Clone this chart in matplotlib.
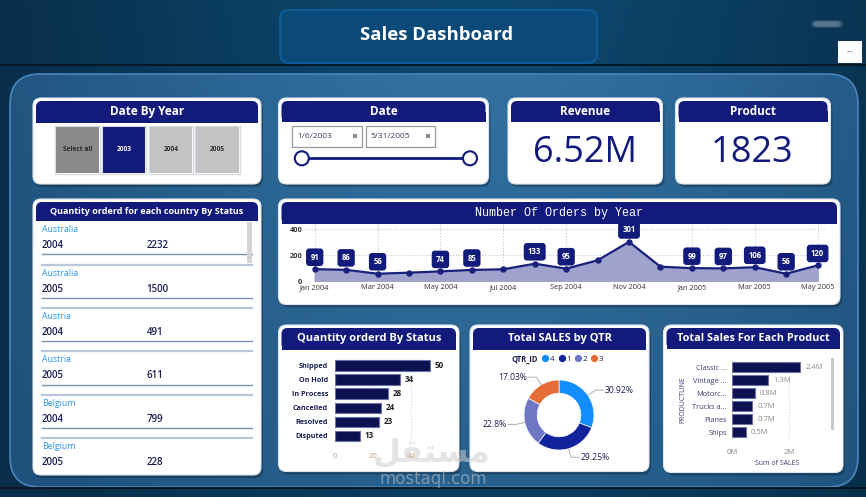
import numpy as np
import matplotlib.pyplot as plt
from matplotlib.patches import FancyBboxPatch, Rectangle, Circle
from matplotlib.lines import Line2D

plt.rcParams['font.family'] = ['Open Sans', 'DejaVu Sans']

# ---------------- data ----------------
slicer_years = ['Select all', '2003', '2004', '2005']
selected_year = '2003'
date_from = '1/6/2003'
date_to = '5/31/2005'
revenue = 6.52e6
product_count = 1823

table_country = ['Australia', 'Australia', 'Austria', 'Austria', 'Belgium', 'Belgium']
table_year = [2004, 2005, 2004, 2005, 2004, 2005]
table_qty = [2232, 1500, 491, 611, 799, 228]

months = ['Jan 2004', 'Feb 2004', 'Mar 2004', 'Apr 2004', 'May 2004', 'Jun 2004',
          'Jul 2004', 'Aug 2004', 'Sep 2004', 'Oct 2004', 'Nov 2004', 'Dec 2004',
          'Jan 2005', 'Feb 2005', 'Mar 2005', 'Apr 2005', 'May 2005']
orders = [91, 86, 56, 64, 74, 85, 90, 133, 95, 159, 301, 110, 99, 97, 106, 56, 120]
order_labelled = [1, 1, 1, 0, 1, 1, 0, 1, 1, 0, 1, 0, 1, 1, 1, 1, 1]

status = ['Shipped', 'On Hold', 'In Process', 'Cancelled', 'Resolved', 'Disputed']
status_qty = [50, 34, 28, 24, 23, 13]

qtr_ids = ['4', '1', '2', '3']
qtr_share = [30.92, 29.25, 22.80, 17.03]

product_lines = ['Classic ...', 'Vintage ...', 'Motorc...', 'Trucks a...', 'Planes', 'Ships']
product_sales = [2.40, 1.27, 0.79, 0.71, 0.70, 0.48]  # millions

# ---------------- style ----------------
NAVY = '#121b7b'
BAR = '#0c1150'
TXT = '#1c2052'
qtr_colors = ['#118dff', '#12239e', '#6f76c4', '#e66c37']

W, H = 866, 497
fig = plt.figure(figsize=(W / 100, H / 100), dpi=100)
bg = fig.add_axes([0, 0, 1, 1])
bg.set_xlim(0, W)
bg.set_ylim(H, 0)
bg.axis('off')


def box(x0, y0, x1, y1):
    ax = fig.add_axes([x0 / W, 1 - y1 / H, (x1 - x0) / W, (y1 - y0) / H])
    ax.patch.set_alpha(0)
    return ax


def rbox(x0, y0, x1, y1, r, **kw):
    p = FancyBboxPatch((x0, y0), x1 - x0, y1 - y0,
                       boxstyle=f'round,pad=0,rounding_size={r}', **kw)
    bg.add_patch(p)
    return p


# backdrop
gx, gy = np.meshgrid(np.linspace(0, 1, 300), np.linspace(0, 1, 200))
t = np.exp(-((gx - 0.55) / 0.45) ** 2) * (1 - 0.35 * gy)
dark = np.array([0.03, 0.16, 0.26])
light = np.array([0.05, 0.28, 0.43])
img = dark + (light - dark) * t[..., None]
bg.imshow(img, extent=(0, W, H, 0), aspect='auto', zorder=0)

panel = rbox(10, 74, 858, 487, 30, fc='none', ec='#4a86bd', lw=1.2, zorder=1.2)
t2 = np.exp(-((gx - 0.55) / 0.5) ** 2) * (1 - 0.45 * gy)
pdark = np.array([0.10, 0.29, 0.45])
plight = np.array([0.20, 0.45, 0.64])
pimg = pdark + (plight - pdark) * t2[..., None]
im = bg.imshow(pimg, extent=(0, W, H, 0), aspect='auto', zorder=1.1)
im.set_clip_path(panel)
bg.plot([0, W], [65, 65], color='#061420', lw=1.3, zorder=1.3)
bg.plot([0, W], [487.5, 487.5], color='#061420', lw=1.3, zorder=1.3)

# title box
rbox(280, 10, 597, 63, 9, fc='#0b4a78', ec='#0f5b98', lw=1.5, zorder=2)
bg.text(437, 35, 'Sales Dashboard', color='white', fontsize=13.3, fontweight='bold',
        ha='center', va='center', zorder=3)
for k, a in [(0, 0.12), (1.5, 0.18), (3, 0.25)]:
    rbox(811 + k, 20 + k / 2, 843 - k, 28 - k / 2, 3, fc='#b3c4d6', ec='none', alpha=a, zorder=2)
bg.add_patch(Rectangle((837.5, 41), 24, 22, fc='white', ec='none', zorder=2))
bg.text(849.5, 52, '•••', color='#777', fontsize=4, ha='center', va='center', zorder=3)


def card(x0, y0, x1, y1, title, hdr_h=21, fs=8.5, family=None):
    rbox(x0 + 2, y0 + 3, x1 + 2, y1 + 3, 8, fc='black', ec='none', alpha=0.25, zorder=2)
    rbox(x0, y0, x1, y1, 8, fc='white', ec='#dfe5ee', lw=0.8, zorder=3)
    hx0, hx1, hy0, hy1 = x0 + 3, x1 - 3, y0 + 3, y0 + 3 + hdr_h
    rbox(hx0, hy0, hx1, hy1, 6, fc=NAVY, ec='none', zorder=4)
    bg.add_patch(Rectangle((hx0, (hy0 + hy1) / 2), hx1 - hx0, (hy1 - hy0) / 2,
                           fc=NAVY, ec='none', zorder=4))
    kw = dict(fontweight='bold')
    if family:
        kw = dict(family=family, fontweight='normal')
    bg.text((hx0 + hx1) / 2, (hy0 + hy1) / 2, title, color='white', fontsize=fs,
            ha='center', va='center', zorder=5, **kw)


# ---------------- year slicer ----------------
card(33, 98, 261, 184, 'Date By Year', hdr_h=22)
for i, yr in enumerate(slicer_years):
    bx = 56 + i * 46.8
    if yr == 'Select all':
        fc, tc = '#8a8a8a', '#2a2a2a'
    elif yr == selected_year:
        fc, tc = NAVY, 'white'
    else:
        fc, tc = '#c3c3c3', '#2a2a2a'
    bg.add_patch(Rectangle((bx - 1, 126), 44.5, 47.5, fc='white', ec='#d6dbe4', lw=1, zorder=5))
    bg.add_patch(Rectangle((bx, 127), 42.5, 45.5, fc=fc, ec='none', zorder=6))
    bg.text(bx + 21.2, 149.5, yr, color=tc, fontsize=4.8, fontweight='bold',
            ha='center', va='center', zorder=7)

# ---------------- date slicer ----------------
card(278.5, 98, 488.5, 184, 'Date', hdr_h=21)
for bx0, bx1, s in [(292, 361.5, date_from), (365.5, 434.5, date_to)]:
    bg.add_patch(Rectangle((bx0, 125.7), bx1 - bx0, 21, fc='white', ec='#9a9a9a', lw=0.9, zorder=5))
    bg.text(bx0 + 5, 136.2, s, color='#3a3a5a', fontsize=6, ha='left', va='center', zorder=6)
    bg.add_patch(Rectangle((bx1 - 9, 133.5), 4, 4.5, fc='#8a8a9a', ec='none', zorder=6))
bg.plot([301.8, 470], [158.3, 158.3], color=NAVY, lw=2, zorder=5)
for cx in (301.8, 470):
    bg.add_patch(Circle((cx, 158.3), 7, fc='white', ec=NAVY, lw=1.5, zorder=6))

# ---------------- KPI cards ----------------
card(508, 98, 662.5, 184, 'Revenue', hdr_h=20.5)
bg.text(585, 153, f'{revenue / 1e6:.2f}M', color=NAVY, fontsize=26, ha='center', va='center', zorder=5)
card(675.5, 98, 830.5, 184, 'Product', hdr_h=20.5)
bg.text(752, 153, f'{product_count}', color=NAVY, fontsize=26, ha='center', va='center', zorder=5)

# ---------------- table ----------------
card(33, 199, 261, 475, 'Quantity orderd for each country By Status', hdr_h=19, fs=6.5)
for i, (c, y, q) in enumerate(zip(table_country, table_year, table_qty)):
    base = 229.7 + i * 43.4
    bg.text(41.7, base, c, color='#2b95ef', fontsize=6.3, ha='left', va='center', zorder=5)
    bg.text(41.7, base + 16, str(y), color=TXT, fontsize=7, fontweight='semibold',
            ha='left', va='center', zorder=5)
    bg.text(146.7, base + 16, str(q), color=TXT, fontsize=7, fontweight='semibold',
            ha='left', va='center', zorder=5)
    if i < len(table_country) - 1:
        bg.plot([41.7, 251.7], [base + 24.6, base + 24.6], color='#7d8fb0', lw=1, zorder=5)
        bg.plot([41.7, 251.7], [base + 34.8, base + 34.8], color='#b9c5d8', lw=1.6, zorder=5)
bg.add_patch(Rectangle((247.3, 221.7), 4.4, 41, fc='#d3d3d3', ec='none', zorder=6))

# ---------------- orders line chart ----------------
card(278.5, 199, 840, 304.5, 'Number Of Orders by Year', hdr_h=22, fs=8.5,
     family='Liberation Mono')
ax = box(305, 222, 826, 281)
xi = np.arange(len(orders))
ax.fill_between(xi, orders, color='#9ea2cd', zorder=2)
ax.plot(xi, orders, color='#1a217d', lw=1.6, marker='o', ms=3.6, zorder=3)
for i, v in enumerate(orders):
    if order_labelled[i]:
        ax.annotate(str(v), (i, v), xytext=(0, 8.6), textcoords='offset points',
                    ha='center', va='center', fontsize=5.6, fontweight='bold', color='white',
                    bbox=dict(boxstyle='round,pad=0.55,rounding_size=0.4', fc=NAVY, ec='none'),
                    zorder=5, annotation_clip=False)
ax.set_xlim(-0.309, 16.267)
ax.set_ylim(0, 454)
ax.set_xticks(xi[::2])
ax.set_xticklabels(months[::2], fontsize=5.3, color='#333')
ax.set_yticks([0, 200, 400])
ax.set_yticklabels(['0', '200', '400'], fontsize=5.3, color='#333', fontweight='bold')
ax.tick_params(length=0, pad=2)
ax.grid(True, linestyle=':', color='#c8c8c8', lw=0.8)
ax.set_axisbelow(True)
for s in ax.spines.values():
    s.set_visible(False)

# ---------------- quantity by status ----------------
card(278.5, 325, 459, 471.5, 'Quantity orderd By Status', hdr_h=22, fs=8)
ax = box(335, 358.6, 445, 443)
yi = np.arange(len(status))
ax.barh(yi, status_qty, height=0.75, color=BAR, edgecolor='#6b70a8', lw=0.8, zorder=3)
for i, v in enumerate(status_qty):
    ax.text(v + 2.6, i, str(v), va='center', ha='left', fontsize=5.8, fontweight='bold',
            color='#222', zorder=4)
ax.set_xlim(0, 57.9)
ax.set_ylim(5.5, -0.5)
ax.set_yticks(yi)
ax.set_yticklabels(status, fontsize=5.2, fontweight='bold', color=TXT)
ax.set_xticks([0, 20, 40])
ax.set_xticklabels(['0', '20', '40'], fontsize=5.5, color='#c9a57f')
ax.tick_params(length=0, pad=5)
ax.tick_params(axis='x', pad=7)
ax.grid(True, axis='x', linestyle=':', color='#d8d8d8', lw=0.8)
ax.set_axisbelow(True)
for s in ax.spines.values():
    s.set_visible(False)

# ---------------- sales by quarter ----------------
card(470, 325, 649, 471.5, 'Total SALES by QTR', hdr_h=22, fs=8)
ax = box(519, 375, 599, 455)
wedges, _ = ax.pie(qtr_share, colors=qtr_colors, startangle=90, counterclock=False,
                   radius=0.875, wedgeprops=dict(width=0.33, edgecolor='white', lw=0.5))
ax.set_xlim(-1, 1)
ax.set_ylim(-1, 1)
ax.set_aspect('equal')
for w, pct in zip(wedges, qtr_share):
    ang = np.deg2rad((w.theta1 + w.theta2) / 2)
    x0, y0 = 0.875 * np.cos(ang), 0.875 * np.sin(ang)
    x1, y1 = 1.1 * np.cos(ang), 1.1 * np.sin(ang)
    sgn = 1 if np.cos(ang) >= 0 else -1
    x2 = x1 + sgn * 0.2
    ax.plot([x0, x1, x2], [y0, y1, y1], color='#b0b0b0', lw=0.7, clip_on=False)
    lab = f'{pct:.2f}'.rstrip('0').rstrip('.') + '%'
    ax.text(x2 + sgn * 0.04, y1, lab, ha='left' if sgn > 0 else 'right', va='center',
            fontsize=6.2, color=TXT)
bg.text(511, 359, 'QTR_ID', fontsize=5.5, fontweight='bold', color=TXT, ha='left',
        va='center', zorder=6)
handles = [Line2D([], [], marker='o', ls='', color=c, ms=4.2) for c in qtr_colors]
bg.legend(handles, qtr_ids, loc='center left', bbox_to_anchor=(543, 359),
          bbox_transform=bg.transData, ncol=4, frameon=False, fontsize=5.8,
          handlelength=0.6, handletextpad=0.25, columnspacing=0.6, borderpad=0,
          borderaxespad=0, labelcolor=TXT)

# ---------------- sales by product ----------------
card(663.5, 325, 843, 472.5, 'Total Sales For Each Product', hdr_h=21, fs=7.8)
ax = box(732.3, 360.5, 822, 438.8)
yi = np.arange(len(product_lines))
ax.barh(yi, product_sales, height=0.77, color=BAR, edgecolor='#6b70a8', lw=0.8, zorder=3)
for i, v in enumerate(product_sales):
    ax.text(v + 0.18, i, f'{v:.1f}M', va='center', ha='left', fontsize=5.5, color='#8a8a8a', zorder=4)
ax.set_xlim(0, 3.17)
ax.set_ylim(5.5, -0.5)
ax.set_yticks(yi)
ax.set_yticklabels(product_lines, fontsize=5.3, color='#3b4170')
ax.set_xticks([0, 2])
ax.set_xticklabels(['0M', '2M'], fontsize=5.5, color='#8a8a8a')
ax.tick_params(length=0, pad=4)
ax.tick_params(axis='x', pad=7)
ax.set_xlabel('Sum of SALES', fontsize=5, color='#3b4170', labelpad=3)
ax.set_ylabel('PRODUCTLINE', fontsize=5, color='#3b4170', labelpad=4)
ax.grid(True, axis='x', linestyle=':', color='#d8d8d8', lw=0.8)
ax.set_axisbelow(True)
for s in ax.spines.values():
    s.set_visible(False)
bg.add_patch(Rectangle((830.5, 358), 3.6, 72, fc='#c8c8c8', ec='none', zorder=6))

# ---------------- watermark ----------------
bg.text(432, 453, '\ufede\ufed8\ufe98\ufeb4\ufee3', family=['DejaVu Sans'], fontsize=23,
        fontweight='bold', color='#cfcfcf', alpha=0.55, ha='center', va='center', zorder=20)
bg.text(433, 479, 'mostaql.com', family=['DejaVu Sans'], fontsize=12, color='#cfcfcf',
        alpha=0.5, ha='center', va='center', zorder=20)

fig.savefig('out.png', dpi=100)
